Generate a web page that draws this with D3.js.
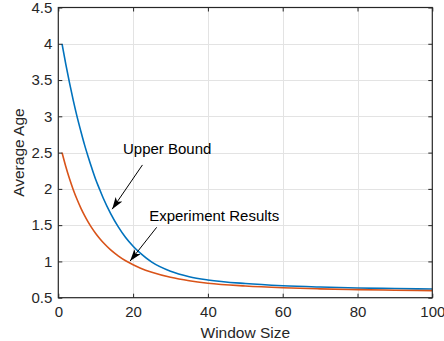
<!DOCTYPE html>
<html>
<head>
<meta charset="utf-8">
<script src="https://cdn.jsdelivr.net/npm/d3@7"></script>
<style>
    html, body { margin: 0; padding: 0; background: #fff; }
    svg { display: block; font-family: "Liberation Sans", Arial, sans-serif; }
</style>
</head>
<body>
<div id="chart"></div>
<script>
// window sizes where the curves were read
var windowSizes = [1, 2, 3, 4, 5, 6, 7, 8, 9, 10, 11, 12, 14, 16, 18, 20, 22, 25, 30, 35, 40, 50, 60, 70, 80, 90, 100];
var upperBound = [4.00, 3.72, 3.46, 3.22, 3.00, 2.80, 2.61, 2.44, 2.28, 2.13, 2.00, 1.875, 1.66, 1.48, 1.33, 1.21, 1.11, 0.99, 0.865, 0.79, 0.745, 0.695, 0.665, 0.647, 0.634, 0.626, 0.62];
var experimentResults = [2.50, 2.308, 2.139, 1.989, 1.857, 1.739, 1.635, 1.542, 1.459, 1.385, 1.319, 1.26, 1.159, 1.077, 1.009, 0.954, 0.907, 0.851, 0.782, 0.734, 0.70, 0.662, 0.638, 0.622, 0.611, 0.603, 0.597];
var xTicks = [0, 20, 40, 60, 80, 100];
var yTicks = [0.5, 1, 1.5, 2, 2.5, 3, 3.5, 4, 4.5];

// annotations: text anchor and arrow (tail -> tip) in data units
var annotations = [
    { label: "Upper Bound", tx: 17.3, ty: 2.48, x1: 22.5, y1: 2.33, x2: 14.4, y2: 1.72 },
    { label: "Experiment Results", tx: 24.3, ty: 1.557, x1: 26.3, y1: 1.47, x2: 19.2, y2: 1.005 }
];

var width = 444, height = 341;
var margin = { top: 7.5, right: 11.7, bottom: 43.3, left: 58.3 };
var axisColor = "#262626";

var svg = d3.select("#chart").append("svg")
    .attr("width", width)
    .attr("height", height);

var x = d3.scaleLinear().domain([0, 100]).range([margin.left, width - margin.right]);
var y = d3.scaleLinear().domain([0.5, 4.5]).range([height - margin.bottom, margin.top]);

// grid
var grid = svg.append("g").attr("stroke", "#e3e3e3").attr("stroke-width", 1);
grid.selectAll(".gx").data(xTicks.slice(1, -1)).enter().append("line")
    .attr("x1", function (d) { return Math.round(x(d)) + 0.5; })
    .attr("x2", function (d) { return Math.round(x(d)) + 0.5; })
    .attr("y1", y(0.5)).attr("y2", y(4.5));
grid.selectAll(".gy").data(yTicks.slice(1, -1)).enter().append("line")
    .attr("y1", function (d) { return Math.round(y(d)) + 0.5; })
    .attr("y2", function (d) { return Math.round(y(d)) + 0.5; })
    .attr("x1", x(0)).attr("x2", x(100));

// curves
var line = d3.line()
    .x(function (d) { return x(d[0]); })
    .y(function (d) { return y(d[1]); })
    .curve(d3.curveMonotoneX);

var series = [
    { values: upperBound, color: "#0072BD" },
    { values: experimentResults, color: "#D95319" }
];
svg.selectAll(".series").data(series).enter().append("path")
    .attr("fill", "none")
    .attr("stroke", function (d) { return d.color; })
    .attr("stroke-width", 1.6)
    .attr("d", function (d) { return line(windowSizes.map(function (w, i) { return [w, d.values[i]]; })); });

// axes (MATLAB style, ticks inside, box)
var tickLen = 4;
var xAxis = d3.axisBottom(x).tickValues(xTicks).tickSize(-tickLen).tickPadding(9);
var yAxis = d3.axisLeft(y).tickValues(yTicks).tickSize(-tickLen).tickPadding(6)
    .tickFormat(function (d) { return d3.format("")(d); });

function styleAxis(g) {
    g.select(".domain").remove();
    g.selectAll("line").attr("stroke", axisColor);
    g.selectAll("text").attr("fill", axisColor).attr("font-size", 15)
        .attr("font-family", "'Liberation Sans', Arial, sans-serif");
}

svg.append("g")
    .attr("transform", "translate(0," + y(0.5) + ")")
    .call(xAxis).call(styleAxis);
svg.append("g")
    .attr("transform", "translate(" + x(0) + ",0)")
    .call(yAxis).call(styleAxis);
svg.append("g")
    .attr("transform", "translate(0," + y(4.5) + ")")
    .call(d3.axisTop(x).tickValues(xTicks).tickSize(-tickLen).tickFormat(""))
    .call(styleAxis);
svg.append("g")
    .attr("transform", "translate(" + x(100) + ",0)")
    .call(d3.axisRight(y).tickValues(yTicks).tickSize(-tickLen).tickFormat(""))
    .call(styleAxis);

svg.append("rect")
    .attr("x", x(0)).attr("y", y(4.5))
    .attr("width", x(100) - x(0)).attr("height", y(0.5) - y(4.5))
    .attr("fill", "none").attr("stroke", axisColor).attr("stroke-width", 1.2);

// axis labels
svg.append("text")
    .attr("x", (x(0) + x(100)) / 2).attr("y", 338)
    .attr("text-anchor", "middle").attr("font-size", 15.5).attr("fill", axisColor)
    .text("Window Size");
svg.append("text")
    .attr("transform", "translate(24," + ((y(0.5) + y(4.5)) / 2) + ") rotate(-90)")
    .attr("text-anchor", "middle").attr("font-size", 15.5).attr("fill", axisColor)
    .text("Average Age");

// annotations
svg.append("defs").append("marker")
    .attr("id", "arrow")
    .attr("viewBox", "0 0 12 8")
    .attr("refX", 12).attr("refY", 4)
    .attr("markerWidth", 12).attr("markerHeight", 8)
    .attr("markerUnits", "userSpaceOnUse")
    .attr("orient", "auto")
    .append("path")
    .attr("d", "M0,0 L12,4 L0,8 L3,4 Z")
    .attr("fill", "#000");

var ann = svg.selectAll(".ann").data(annotations).enter().append("g");
ann.append("line")
    .attr("x1", function (d) { return x(d.x1); })
    .attr("y1", function (d) { return y(d.y1); })
    .attr("x2", function (d) { return x(d.x2); })
    .attr("y2", function (d) { return y(d.y2); })
    .attr("stroke", "#000").attr("stroke-width", 1)
    .attr("marker-end", "url(#arrow)");
ann.append("text")
    .attr("x", function (d) { return x(d.tx); })
    .attr("y", function (d) { return y(d.ty); })
    .attr("font-size", 15).attr("fill", "#000")
    .text(function (d) { return d.label; });
</script>
</body>
</html>
